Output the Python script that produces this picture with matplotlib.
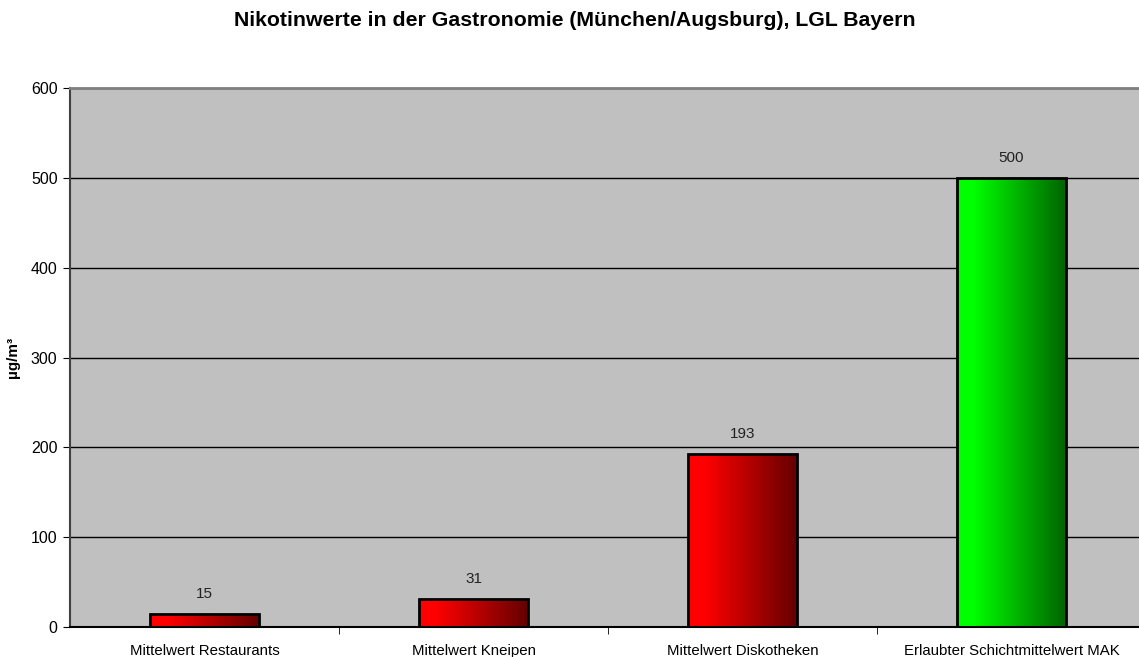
import numpy as np
import matplotlib.pyplot as plt
from matplotlib.colors import LinearSegmentedColormap

plt.rcParams['font.family'] = ['Liberation Sans', 'DejaVu Sans']

categories = ['Mittelwert Restaurants', 'Mittelwert Kneipen',
              'Mittelwert Diskotheken', 'Erlaubter Schichtmittelwert MAK']
values = [15, 31, 193, 500]
bar_colors = [('#ff0000', '#640000'), ('#ff0000', '#640000'),
              ('#ff0000', '#640000'), ('#00ff00', '#006400')]

fig = plt.figure(figsize=(11.39, 6.57), dpi=100)
# plot area runs slightly past the right edge of the figure, as in the original
ax = fig.add_axes([70/1139, 30/657, 1076/1139, 539/657])
ax.set_facecolor('#c0c0c0')

x = np.arange(len(categories))
bars = ax.bar(x, values, width=0.405, color='none', edgecolor='black',
              linewidth=2, zorder=3)

# horizontal gradient fill clipped to each bar
grad = np.linspace(0, 1, 256).reshape(1, -1)
for b, (c1, c2) in zip(bars, bar_colors):
    cmap = LinearSegmentedColormap.from_list('g', [(0, c1), (0.15, c1), (1, c2)])
    x0, y0 = b.get_x(), b.get_y()
    w, h = b.get_width(), b.get_height()
    im = ax.imshow(grad, cmap=cmap, aspect='auto', zorder=2,
                   extent=[x0, x0 + w, y0, y0 + h])
    im.set_clip_path(b)

for xi, v in zip(x, values):
    ax.text(xi, v + 22, str(v), ha='center', va='center', fontsize=11, color='#222222')

ax.set_xlim(-0.5, len(categories) - 0.5)
ax.set_ylim(0, 600)
ax.set_yticks(range(0, 601, 100))
ax.set_xticks(x)
ax.set_xticklabels(categories, fontsize=10.8)
ax.set_xticks(np.arange(0.5, len(categories) - 1, 1), minor=True)
ax.tick_params(axis='x', which='major', length=0, pad=12)
ax.tick_params(axis='x', which='minor', length=5, direction='out', color='black')
ax.tick_params(axis='y', length=5, direction='out', labelsize=11.5, pad=4)

ax.yaxis.grid(True, color='black', linewidth=1)
ax.set_axisbelow(True)

ax.spines['top'].set_color('#808080')
ax.spines['top'].set_linewidth(2)
ax.spines['right'].set_visible(False)
ax.spines['left'].set_color('#404040')
ax.spines['left'].set_linewidth(1.5)
ax.spines['bottom'].set_color('black')
ax.spines['bottom'].set_linewidth(1.5)

ax.set_ylabel('µg/m³', fontsize=11, fontweight='bold', labelpad=8)
fig.text(575/1139, 1 - 20/657, 'Nikotinwerte in der Gastronomie (München/Augsburg), LGL Bayern',
         ha='center', va='center', fontsize=15.3, fontweight='bold')

fig.savefig('out.png', dpi=100)
